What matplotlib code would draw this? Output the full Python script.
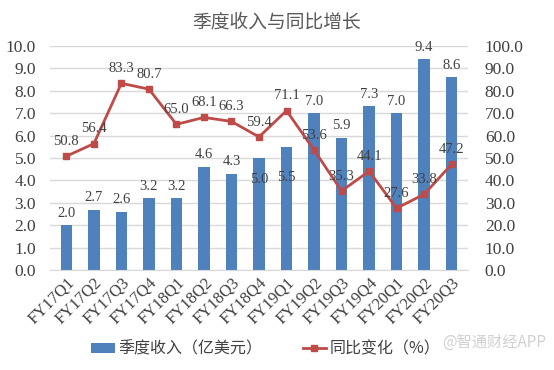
import numpy as np
import matplotlib.pyplot as plt

plt.rcParams['font.family'] = ['Liberation Serif', 'Noto Sans CJK SC']

quarters = ['FY17Q1', 'FY17Q2', 'FY17Q3', 'FY17Q4', 'FY18Q1', 'FY18Q2', 'FY18Q3', 'FY18Q4',
            'FY19Q1', 'FY19Q2', 'FY19Q3', 'FY19Q4', 'FY20Q1', 'FY20Q2', 'FY20Q3']
revenue = [2.0, 2.7, 2.6, 3.2, 3.2, 4.6, 4.3, 5.0, 5.5, 7.0, 5.9, 7.3, 7.0, 9.4, 8.6]
yoy = [50.8, 56.4, 83.3, 80.7, 65.0, 68.1, 66.3, 59.4, 71.1, 53.6, 35.3, 44.1, 27.6, 33.8, 47.2]

bar_c = '#4F81BD'
line_c = '#BE4B48'
txt_c = '#404040'

fig = plt.figure(figsize=(5.54, 3.70), dpi=100)
ax = fig.add_axes([0.09, 0.27, 0.755, 0.606])
ax2 = ax.twinx()

x = np.arange(len(quarters))
bars = ax.bar(x, revenue, width=0.42, color=bar_c, zorder=2, label='季度收入（亿美元）')
ln, = ax2.plot(x, yoy, color=line_c, lw=2, marker='s', ms=5, zorder=3, label='同比变化（%）')

ax.set_ylim(0, 10)
ax2.set_ylim(0, 100)
ax.set_xlim(-0.6, len(quarters) - 0.4)
ax.set_yticks(np.arange(0, 10.1, 1))
ax.set_yticklabels([f'{v:.1f}' for v in np.arange(0, 10.1, 1)])
ax2.set_yticks(np.arange(0, 101, 10))
ax2.set_yticklabels([f'{v:.1f}' for v in np.arange(0, 101, 10)])
ax.yaxis.grid(True, color='#D9D9D9', lw=1, zorder=0)
ax.set_axisbelow(True)

for a in (ax, ax2):
    for s in a.spines.values():
        s.set_visible(False)
    a.tick_params(length=0, labelsize=12.5, colors=txt_c)
ax.tick_params(axis='y', pad=10)
ax2.tick_params(axis='y', pad=12)
ax.spines['bottom'].set_visible(True)
ax.spines['bottom'].set_color('#D9D9D9')

ax.set_xticks(x)
ax.set_xticklabels(quarters, rotation=45, ha='right', rotation_mode='anchor', fontsize=12)

# two bar labels sit inside the bar in the original, clear of the line labels
inside = {7, 8}
for i, (xi, v) in enumerate(zip(x, revenue)):
    if i in inside:
        ax.annotate(f'{v:.1f}', (xi, v), xytext=(0, -20 if i == 7 else -27),
                    textcoords='offset points', ha='center', va='bottom',
                    fontsize=10.5, color=txt_c)
    else:
        ax.annotate(f'{v:.1f}', (xi, v), xytext=(0, 4), textcoords='offset points',
                    ha='center', va='bottom', fontsize=10.5, color=txt_c)
for xi, v in zip(x, yoy):
    ax2.annotate(f'{v:.1f}', (xi, v), xytext=(0, 6), textcoords='offset points',
                 ha='center', va='bottom', fontsize=10.5, color=txt_c)

fig.suptitle('季度收入与同比增长', y=0.97, fontsize=13.5, color='#595959',
             family=['Noto Sans CJK SC'])

fig.legend(handles=[bars, ln], loc='lower center', bbox_to_anchor=(0.48, -0.005), ncol=2,
           frameon=False, handlelength=1.5, handleheight=0.6, handletextpad=0.2,
           columnspacing=2.5, prop={'family': ['Noto Sans CJK SC'], 'size': 11.5},
           labelcolor=txt_c)

fig.text(0.985, 0.075, '@智通财经APP', ha='right', va='center', fontsize=11,
         color='#D0D0D0', family=['Noto Sans CJK SC'])

fig.savefig('out.png', dpi=100)
